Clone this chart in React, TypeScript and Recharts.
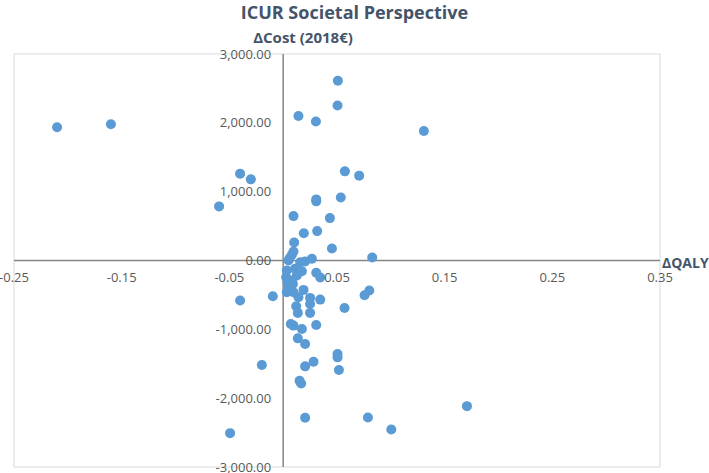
import React from 'react';
import {
  ScatterChart,
  Scatter,
  XAxis,
  YAxis,
  CartesianGrid,
  ReferenceLine,
  ReferenceDot,
} from 'recharts';

const xTicks = [-0.25, -0.15, -0.05, 0.05, 0.15, 0.25, 0.35];
const yTicks = [-3000, -2000, -1000, 0, 1000, 2000, 3000];

const qalyValues = [
  -0.21, -0.16, -0.04, -0.03, -0.0595, -0.04, -0.0096, -0.0198, -0.0493,
  0.0508, 0.0505, 0.0142, 0.0304, 0.1307, 0.0573, 0.0706, 0.0535, 0.0307,
  0.0307, 0.0096, 0.0434, 0.0316, 0.0192, 0.0102, 0.0453, 0.0096, 0.0081,
  0.0059, 0.0827, 0.005, 0.0267, 0.0204, 0.0158, 0.0034, 0.011, 0.0174,
  0.0307, 0.0344, 0.0028, 0.0127, 0.004, 0.008, 0.009, 0.005, 0.006, 0.0034,
  0.0096, 0.0189, 0.0142, 0.025, 0.0344, 0.025, 0.0121, 0.0136, 0.025, 0.057,
  0.08, 0.0756, 0.0071, 0.0096, 0.0174, 0.0307, 0.0136, 0.0204, 0.0282,
  0.0204, 0.0505, 0.0505, 0.0518, 0.0152, 0.0167, 0.0204, 0.0787, 0.1004,
  0.1707,
];

const costValues = [
  1936, 1980, 1262, 1179, 786, -582, -520, -1518, -2508,
  2612, 2252, 2100, 2019, 1882, 1295, 1233, 915, 888,
  859, 645, 616, 427, 397, 262, 175, 131, 83,
  33, 44, 0, 25, -15, -25, -146, -121, -155,
  -179, -247, -243, -218, -316, -291, -340, -388, -412, -461,
  -461, -427, -534, -543, -568, -631, -665, -761, -761, -689,
  -437, -505, -922, -946, -995, -936, -1131, -1213, -1470,
  -1538, -1358, -1407, -1591, -1747, -1786, -2285, -2281, -2455,
  -2116,
];

const points = qalyValues.map((q, i) => ({ qaly: q, cost: costValues[i] }));

const TITLE = 'ICUR Societal Perspective';
const Y_TITLE = 'ΔCost (2018€)';
const X_TITLE = 'ΔQALY';

const titleColor = '#44546A';
const tickColor = '#595959';
const gridColor = '#D9D9D9';
const axisColor = '#868686';
const dotColor = '#5B9BD5';
const font = '"Open Sans", "Noto Sans", sans-serif';

const fmtY = (v: number) =>
  v.toLocaleString('en-US', { minimumFractionDigits: 2, maximumFractionDigits: 2 });
const fmtX = (v: number) => v.toFixed(2);

const Dot = (props: any) => {
  const { cx, cy } = props;
  if (cx == null || cy == null) return null;
  return <circle cx={cx} cy={cy} r={5} fill={dotColor} />;
};

export default function App() {
  return (
    <div
      style={{
        position: 'absolute',
        left: 0,
        top: 0,
        width: 709,
        height: 473,
        background: '#fff',
        fontFamily: font,
      }}
    >
      <div
        style={{
          position: 'absolute',
          left: 0,
          width: 709,
          top: 0,
          textAlign: 'center',
          fontWeight: 700,
          fontSize: 18,
          lineHeight: '24px',
          color: titleColor,
        }}
      >
        {TITLE}
      </div>
      <div
        style={{
          position: 'absolute',
          left: 203,
          width: 200,
          top: 27,
          textAlign: 'center',
          fontWeight: 700,
          fontSize: 15,
          lineHeight: '20px',
          color: titleColor,
        }}
      >
        {Y_TITLE}
      </div>
      <div
        style={{
          position: 'absolute',
          left: 662,
          top: 253,
          fontWeight: 700,
          fontSize: 14,
          lineHeight: '20px',
          color: titleColor,
        }}
      >
        {X_TITLE}
      </div>
      <ScatterChart
        width={709}
        height={473}
        margin={{ top: 54, right: 49, bottom: 6, left: 14 }}
        style={{ position: 'absolute', left: 0, top: 0 }}
      >
        <CartesianGrid stroke={gridColor} strokeWidth={1} />
        <XAxis
          type="number"
          dataKey="qaly"
          domain={[-0.25, 0.35]}
          ticks={xTicks}
          allowDataOverflow
          axisLine={false}
          tickLine={false}
          tick={false}
          height={0}
        />
        <YAxis
          type="number"
          dataKey="cost"
          domain={[-3000, 3000]}
          ticks={yTicks}
          allowDataOverflow
          axisLine={false}
          tickLine={false}
          tick={false}
          width={0}
        />
        <ReferenceLine y={0} stroke={axisColor} strokeWidth={1.5} />
        <ReferenceLine x={0} stroke={axisColor} strokeWidth={1.5} />
        {xTicks.map((t) => (
          <ReferenceDot
            key={'x' + t}
            x={t}
            y={0}
            r={0}
            fill="none"
            stroke="none"
            label={{
              value: fmtX(t),
              position: 'bottom',
              offset: 12,
              fill: tickColor,
              fontSize: 13,
              fontFamily: font,
            }}
          />
        ))}
        {yTicks.map((t) => (
          <ReferenceDot
            key={'y' + t}
            x={0}
            y={t}
            r={0}
            fill="none"
            stroke="none"
            label={{
              value: fmtY(t),
              position: 'left',
              offset: 12,
              fill: tickColor,
              fontSize: 13,
              fontFamily: font,
            }}
          />
        ))}
        <Scatter data={points} shape={Dot} isAnimationActive={false} />
      </ScatterChart>
    </div>
  );
}
